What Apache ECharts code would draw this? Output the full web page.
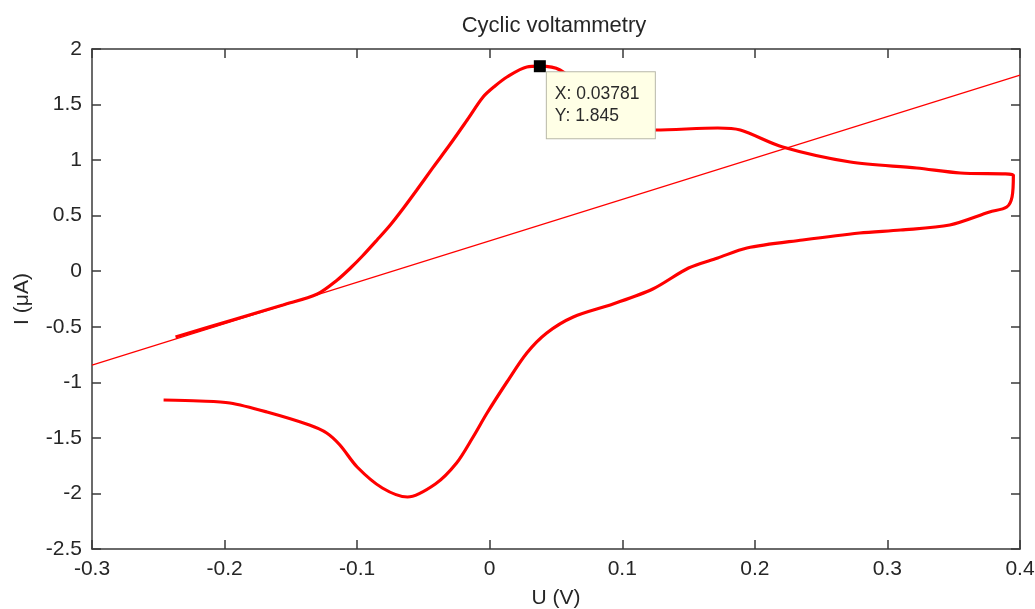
<!DOCTYPE html>
<html>
<head>
<meta charset="utf-8">
<script src="https://cdn.jsdelivr.net/npm/echarts@6/dist/echarts.min.js"></script>
<style>
html,body{margin:0;padding:0;background:#fff;}
#chart{width:1035px;height:609px;}
</style>
</head>
<body>
<div id="chart"></div>
<script>
// Cyclic voltammogram: forward (anodic) sweep then return (cathodic) sweep
const cvVoltage = [
  -0.237, -0.194, -0.156, -0.130, -0.115, -0.105, -0.096, -0.085, -0.075, -0.065,
  -0.055, -0.043, -0.030, -0.017, -0.005, 0.004, 0.013, 0.028, 0.0378, 0.053,
  0.076, 0.098, 0.125, 0.172, 0.189, 0.221, 0.272, 0.322, 0.355, 0.395, 0.394,
  0.390, 0.377, 0.347, 0.310, 0.279, 0.236, 0.194, 0.172, 0.150, 0.123,
  0.093, 0.063, 0.043, 0.028, 0.013, -0.002, -0.013, -0.025, -0.041, -0.062,
  -0.081, -0.100, -0.113, -0.123, -0.136, -0.168, -0.196, -0.219, -0.246
];
const cvCurrent = [
  -0.592, -0.439, -0.304, -0.205, -0.079, 0.029, 0.137, 0.281, 0.416, 0.569,
  0.731, 0.930, 1.140, 1.361, 1.568, 1.667, 1.748, 1.838, 1.845, 1.811,
  1.586, 1.406, 1.271, 1.289, 1.271, 1.118, 0.983, 0.929, 0.884, 0.866, 0.668,
  0.578, 0.533, 0.416, 0.371, 0.344, 0.281, 0.209, 0.119, 0.029, -0.160,
  -0.295, -0.412, -0.556, -0.736, -0.997, -1.276, -1.501, -1.726, -1.915, -2.032,
  -1.951, -1.762, -1.564, -1.456, -1.384, -1.267, -1.186, -1.168, -1.159
];
// Baseline (straight line)
const baseVoltage = [-0.3, 0.4];
const baseCurrent = [-0.845, 1.765];
// Data cursor point
const cursorPoint = [0.03781, 1.845];
// Axis settings
const xMin = -0.3, xMax = 0.4, xStep = 0.1;
const yMin = -2.5, yMax = 2, yStep = 0.5;

const FONT = '"Liberation Sans", Arial, sans-serif';
const TXT = '#262626';
const AX = '#3a3a3a';

const cvData = cvVoltage.map((v, i) => [v, cvCurrent[i]]);
const baseData = baseVoltage.map((v, i) => [v, baseCurrent[i]]);

function fmt(v) { return String(Math.round(v * 10) / 10); }

const chart = echarts.init(document.getElementById('chart'));
chart.setOption({
  animation: false,
  backgroundColor: '#ffffff',
  title: {
    text: 'Cyclic voltammetry',
    left: 549, top: 10, textAlign: 'center',
    textStyle: { fontFamily: FONT, fontSize: 22, fontWeight: 'normal', color: TXT }
  },
  grid: { left: 92, right: 15, top: 49, bottom: 60, containLabel: false, outerBoundsMode: 'none' },
  xAxis: [{
    type: 'value', min: xMin, max: xMax, interval: xStep,
    name: 'U (V)', nameLocation: 'middle', nameGap: 39,
    nameTextStyle: { fontFamily: FONT, fontSize: 21, color: TXT },
    axisLine: { show: true, onZero: false, lineStyle: { color: AX, width: 1.5 } },
    axisTick: { show: true, inside: true, length: 9, lineStyle: { color: AX, width: 1.5 } },
    axisLabel: { fontFamily: FONT, fontSize: 21, color: TXT, margin: 10, formatter: fmt },
    splitLine: { show: false }
  }, {
    type: 'value', position: 'top', min: xMin, max: xMax, interval: xStep,
    axisLine: { show: true, onZero: false, lineStyle: { color: AX, width: 1.5 } },
    axisTick: { show: true, inside: true, length: 9, lineStyle: { color: AX, width: 1.5 } },
    axisLabel: { show: false }, splitLine: { show: false }
  }],
  yAxis: [{
    type: 'value', min: yMin, max: yMax, interval: yStep,
    name: 'I (μA)', nameLocation: 'middle', nameGap: 59, nameRotate: 90,
    nameTextStyle: { fontFamily: FONT, fontSize: 21, color: TXT },
    axisLine: { show: true, onZero: false, lineStyle: { color: AX, width: 1.5 } },
    axisTick: { show: true, inside: true, length: 9, lineStyle: { color: AX, width: 1.5 } },
    axisLabel: { fontFamily: FONT, fontSize: 21, color: TXT, margin: 10 },
    splitLine: { show: false }
  }, {
    type: 'value', position: 'right', min: yMin, max: yMax, interval: yStep,
    axisLine: { show: true, onZero: false, lineStyle: { color: AX, width: 1.5 } },
    axisTick: { show: true, inside: true, length: 9, lineStyle: { color: AX, width: 1.5 } },
    axisLabel: { show: false }, splitLine: { show: false }
  }],
  series: [{
    type: 'line', data: baseData, showSymbol: false, silent: true,
    lineStyle: { color: '#ff0000', width: 1.2 }, z: 2
  }, {
    type: 'line', data: cvData, showSymbol: false, smooth: 0.3, silent: true,
    lineStyle: { color: '#ff0000', width: 3.2 }, z: 3
  }, {
    type: 'scatter', data: [cursorPoint], symbol: 'rect', symbolSize: 12, z: 10,
    itemStyle: { color: '#000000', opacity: 1 },
    label: {
      show: true, position: [13, 12], align: 'left', verticalAlign: 'top',
      formatter: function (p) { return 'X: ' + p.value[0] + '\nY: ' + p.value[1]; },
      fontFamily: FONT, fontSize: 17.5, color: '#2a2a2a', lineHeight: 22, opacity: 1,
      backgroundColor: '#ffffe6', borderColor: '#b8b8a8', borderWidth: 1,
      width: 84, padding: [11, 16, 11, 8]
    }
  }]
});
</script>
</body>
</html>
